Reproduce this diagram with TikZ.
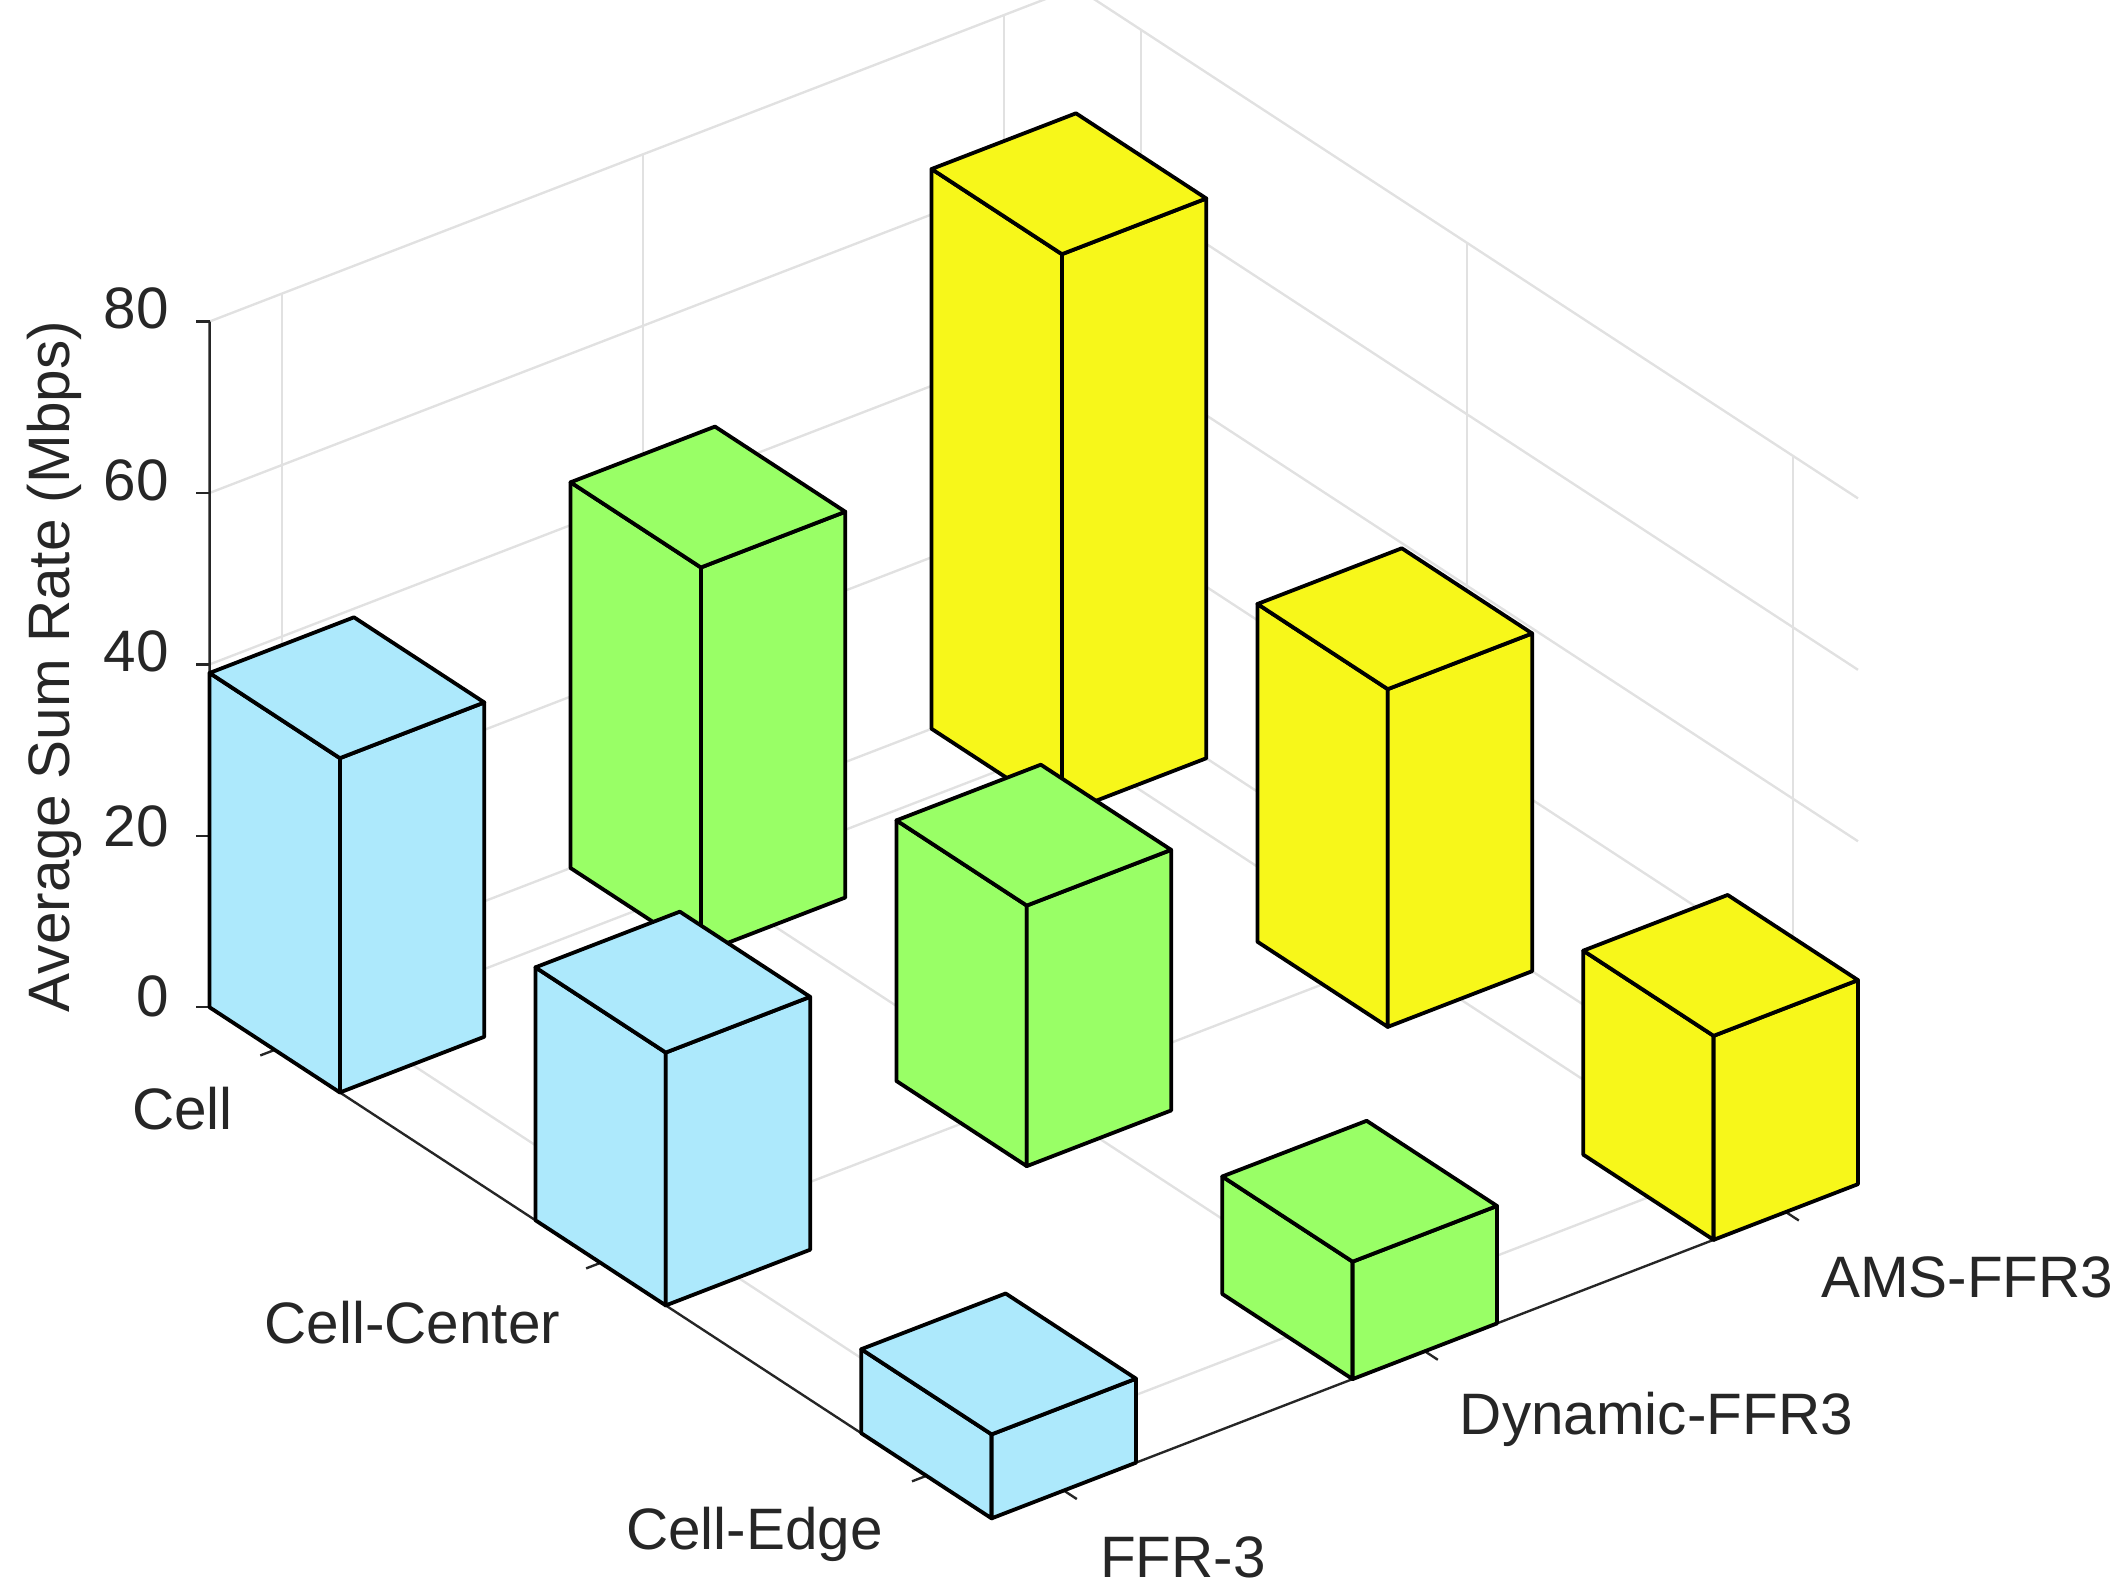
\documentclass[tikz,border=0pt]{standalone}
\usepackage{fontspec}
\setmainfont{Liberation Sans}
\definecolor{bblue}{RGB}{173,233,252}
\definecolor{bgreen}{RGB}{153,255,102}
\definecolor{byellow}{RGB}{247,247,26}
\definecolor{axc}{RGB}{38,38,38}
\definecolor{grd}{RGB}{225,225,225}
\newcommand{\mybar}[4]{%
  \filldraw[barf,fill=#4] (#1,#2,0)--(#1+0.4,#2,0)--(#1+0.4,#2,#3)--(#1,#2,#3)--cycle;
  \filldraw[barf,fill=#4] (#1+0.4,#2,0)--(#1+0.4,#2+0.4,0)--(#1+0.4,#2+0.4,#3)--(#1+0.4,#2,#3)--cycle;
  \filldraw[barf,fill=#4] (#1,#2,#3)--(#1+0.4,#2,#3)--(#1+0.4,#2+0.4,#3)--(#1,#2+0.4,#3)--cycle;}
\begin{document}
\begin{tikzpicture}[
  barf/.style={draw=black,line width=0.8pt,line join=round},
  grid/.style={draw=grd,line width=0.5pt},
  axl/.style={draw=axc,line width=0.5pt},
  lab/.style={text=axc,font=\fontsize{12.3}{14}\selectfont,inner sep=1pt}]
\useasboundingbox (0,0) rectangle (15.68,-11.77);
\begin{scope}[shift={(1.55,-7.45)},x={(2.41cm,-1.575cm)},y={(2.67cm,1.03cm)},z={(0cm,0.0634cm)}]
 % back walls grid
 \foreach \h in {0,20,40,60,80}{
   \draw[grid] (0,0,\h)--(0,2.4,\h)--(2.4,2.4,\h);}
 \foreach \t in {0.2,1.2,2.2}{
   \draw[grid] (0,\t,0)--(0,\t,80);
   \draw[grid] (\t,2.4,0)--(\t,2.4,80);
   \draw[grid] (\t,0,0)--(\t,2.4,0);
   \draw[grid] (0,\t,0)--(2.4,\t,0);}
 % axes
 \coordinate (o) at (0,0,0);
 \coordinate (zt) at (0,0,80);
 \coordinate (ue) at (2.4,0,0);
 \coordinate (ve) at (2.4,2.4,0);
 \draw[axl] (zt)--(o)--(ue)--(ve);
 \foreach \h in {0,20,40,60,80}{\draw[axl] (0,0,\h)--++(-0.1cm,0);}
 \foreach \t in {0.2,1.2,2.2}{
   \draw[axl] (\t,0,0)--(\t,-0.04,0);
   \draw[axl] (2.4,\t,0)--(2.44,\t,0);}
 % bars back to front
 \mybar{0}{2}{65.3}{byellow}
 \mybar{0}{1}{45}{bgreen}
 \mybar{1}{2}{39.4}{byellow}
 \mybar{0}{0}{39}{bblue}
 \mybar{1}{1}{30.4}{bgreen}
 \mybar{2}{2}{23.8}{byellow}
 \mybar{1}{0}{29.5}{bblue}
 \mybar{2}{1}{13.7}{bgreen}
 \mybar{2}{0}{9.8}{bblue}
\end{scope}
\node[lab,anchor=east] (t80) at (1.29,-2.28) {80};
\node[lab,anchor=east] (t60) at (1.29,-3.55) {60};
\node[lab,anchor=east] (t40) at (1.29,-4.82) {40};
\node[lab,anchor=east] (t20) at (1.29,-6.11) {20};
\node[lab,anchor=east] (t0) at (1.29,-7.37) {0};
\node[lab,rotate=90] (yl) at (0.40,-4.93) {Average Sum Rate (Mbps)};
\node[lab] (r1) at (1.35,-8.2) {Cell};
\node[lab] (r2) at (3.05,-9.78) {Cell-Center};
\node[lab] (r3) at (5.58,-11.35) {Cell-Edge};
\node[lab] (c1) at (8.75,-11.52) {FFR-3};
\node[lab] (c2) at (12.25,-10.5) {Dynamic-FFR3};
\node[lab] (c3) at (14.55,-9.45) {AMS-FFR3};
\end{tikzpicture}
\end{document}
